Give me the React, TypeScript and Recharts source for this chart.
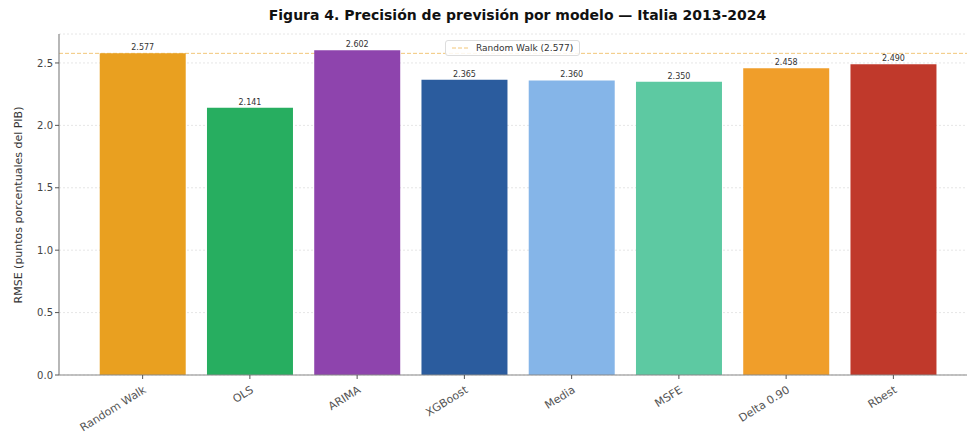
import {
  BarChart,
  Bar,
  XAxis,
  YAxis,
  CartesianGrid,
  ReferenceLine,
  LabelList,
  Cell,
} from "recharts";

const models = ["Random Walk", "OLS", "ARIMA", "XGBoost", "Media", "MSFE", "Delta 0.90", "Rbest"];
const rmse = [2.577, 2.141, 2.602, 2.365, 2.36, 2.35, 2.458, 2.49];
const colors = ["#E9A020", "#27AE60", "#8E44AD", "#2B5C9E", "#85B5E8", "#5DC9A2", "#F09E2A", "#C0392B"];
const yTicks = [0, 0.5, 1.0, 1.5, 2.0, 2.5];
const randomWalk = 2.577;

const data = models.map((m, i) => ({ model: m, rmse: rmse[i] }));

const font = "'DejaVu Sans', sans-serif";

function XTick({ x, y, payload }: any) {
  return (
    <g transform={`translate(${x},${y + 4})`}>
      <text
        x={0}
        y={0}
        dy={8}
        textAnchor="end"
        transform="rotate(-32)"
        fontSize={11}
        fill="#555"
        fontFamily={font}
      >
        {payload.value}
      </text>
    </g>
  );
}

export default function App() {
  const refLineProps: any = { zIndex: 50 };
  return (
    <div style={{ position: "absolute", left: 0, top: 0, width: 967, height: 437, overflow: "hidden", background: "#fff" }}>
      <div
        style={{
          position: "absolute",
          left: 59,
          top: 7,
          width: 917,
          textAlign: "center",
          fontFamily: font,
          fontWeight: "bold",
          fontSize: 14,
          color: "#111",
        }}
      >
        Figura 4. Precisión de previsión por modelo — Italia 2013-2024
      </div>
      <div
        style={{
          position: "absolute",
          left: 18,
          top: 205,
          transform: "translate(-50%,-50%) rotate(-90deg)",
          fontFamily: font,
          fontSize: 11,
          color: "#333",
          whiteSpace: "nowrap",
        }}
      >
        RMSE (puntos porcentuales del PIB)
      </div>
      <div style={{ position: "absolute", left: 0, top: 0 }}>
        <BarChart
          width={990}
          height={437}
          data={data}
          margin={{ top: 34, right: 13, left: 29, bottom: 0 }}
          barCategoryGap="10%"
        >
          <CartesianGrid vertical={false} stroke="#e6e6e6" strokeDasharray="2 2" />
          <ReferenceLine
            y={randomWalk}
            stroke="#E9A020"
            strokeOpacity={0.6}
            strokeDasharray="4 2"
            strokeWidth={1}
            {...refLineProps}
          />
          <XAxis
            dataKey="model"
            interval={0}
            tick={<XTick />}
            tickSize={4}
            height={62}
            padding={{ left: 30, right: 30 }}
            axisLine={{ stroke: "#888", strokeWidth: 1.2 }}
            tickLine={{ stroke: "#555" }}
          />
          <XAxis
            xAxisId="top"
            orientation="top"
            dataKey="model"
            tick={false}
            tickLine={false}
            height={0}
            axisLine={{ stroke: "#666", strokeWidth: 1.2 }}
          />
          <YAxis
            domain={[0, 2.732]}
            ticks={yTicks}
            tickFormatter={(v: number) => v.toFixed(1)}
            width={30}
            tickSize={4}
            tickMargin={2}
            tick={{ fontSize: 10, fill: "#444", fontFamily: font }}
            axisLine={{ stroke: "#888", strokeWidth: 1.2 }}
            tickLine={{ stroke: "#555" }}
          />
          <Bar dataKey="rmse" isAnimationActive={false}>
            {data.map((d, i) => (
              <Cell key={d.model} fill={colors[i]} />
            ))}
            <LabelList
              dataKey="rmse"
              position="top"
              offset={3}
              formatter={(v: any) => Number(v).toFixed(3)}
              style={{ fontSize: 8, fill: "#333", fontFamily: font }}
            />
          </Bar>
        </BarChart>
      </div>
      <div
        style={{
          position: "absolute",
          left: 445,
          top: 40,
          border: "1px solid #ddd",
          borderRadius: 3,
          background: "rgba(255,255,255,0.85)",
          padding: "2px 6px",
          fontSize: 9,
          fontFamily: font,
          color: "#333",
          display: "flex",
          alignItems: "center",
          gap: 6,
          whiteSpace: "nowrap",
        }}
      >
        <svg width={18} height={6}>
          <line x1={0} y1={3} x2={18} y2={3} stroke="#E9A020" strokeOpacity={0.6} strokeDasharray="4 2" strokeWidth={1} />
        </svg>
        <span>Random Walk (2.577)</span>
      </div>
    </div>
  );
}
